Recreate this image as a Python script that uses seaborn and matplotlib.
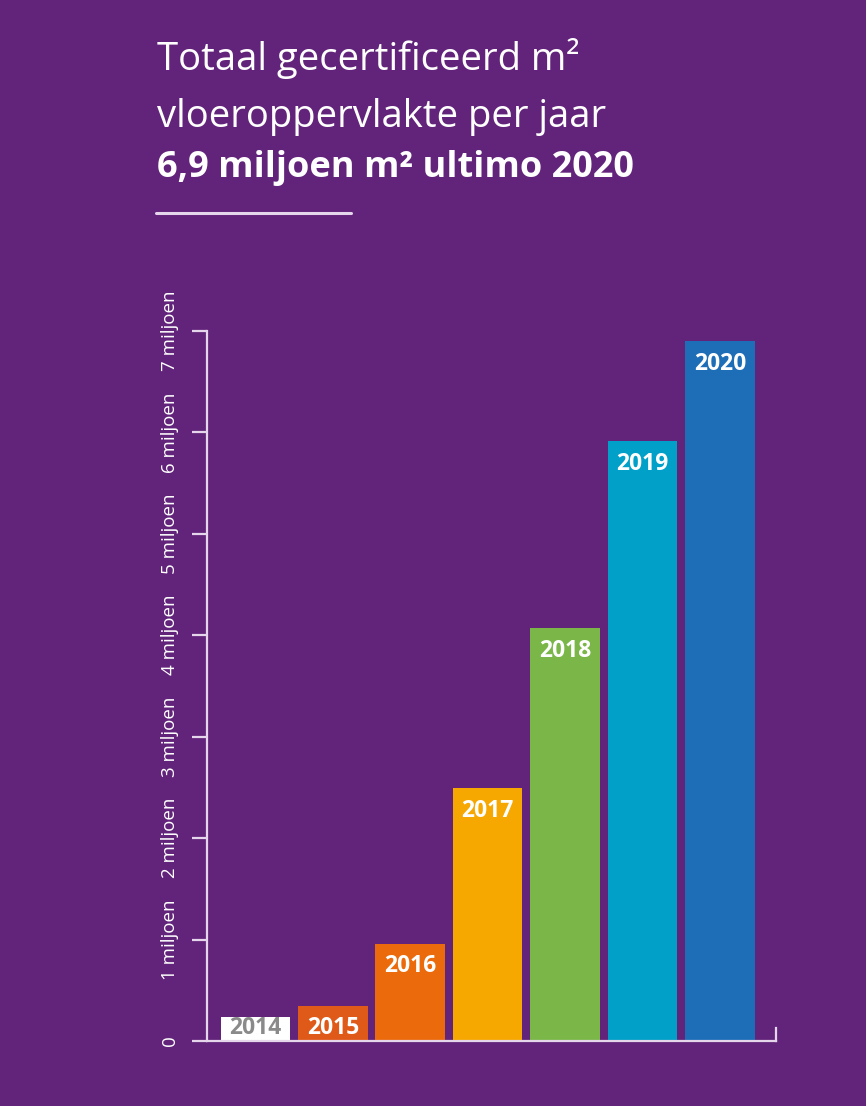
import numpy as np
import matplotlib
matplotlib.use('Agg')
import matplotlib.pyplot as plt
import seaborn as sns
from matplotlib.lines import Line2D

# data
years = ['2014', '2015', '2016', '2017', '2018', '2019', '2020']
area_mln = [0.24, 0.34, 0.96, 2.49, 4.07, 5.91, 6.90]
bar_colors = ['#FFFFFF', '#DF5A18', '#EB6A0C', '#F6A800', '#7AB648', '#00A0C8', '#1E6DB7']
label_colors = ['#8A8A8A', 'white', 'white', 'white', 'white', 'white', 'white']
ytick_vals = [0, 1, 2, 3, 4, 5, 6, 7]
ytick_labels = ['0', '1 miljoen', '2 miljoen', '3 miljoen', '4 miljoen',
                '5 miljoen', '6 miljoen', '7 miljoen']

BG = '#62247A'
AXC = '#E6D6EC'

sns.set_theme(style='white')
plt.rcParams['font.family'] = ['Open Sans', 'DejaVu Sans']

fig = plt.figure(figsize=(8.66, 11.06), dpi=100, facecolor=BG)
ax = fig.add_axes([0.239, 0.0588, 0.657, 0.642])
ax.set_facecolor(BG)

sns.barplot(x=years, y=area_mln, hue=years, palette=bar_colors, width=0.9,
            legend=False, linewidth=0, saturation=1, ax=ax)

ax.set_xlim(-0.627, 6.725)
ax.set_ylim(0, 7)

# year labels inside the bars
for i, (v, c) in enumerate(zip(area_mln, label_colors)):
    ypos = max(v - 0.225, 0.125)
    ax.text(i, ypos, years[i], ha='center', va='center', color=c,
            fontsize=16.5, fontweight='bold')

# axes styling
ax.spines['top'].set_visible(False)
for s in ['left', 'bottom', 'right']:
    ax.spines[s].set_color(AXC)
    ax.spines[s].set_linewidth(1.6)
ax.spines['right'].set_bounds(0, 0.13)

ax.set_xticks([])
ax.set_yticks(ytick_vals)
ax.set_yticklabels(ytick_labels, rotation=90, va='center', color='white', fontsize=13.5)
ax.tick_params(axis='y', direction='out', length=11, width=1.6, color=AXC, pad=9, left=True)
ax.set_xlabel('')
ax.set_ylabel('')

# title block
fig.text(0.181, 0.9367, 'Totaal gecertificeerd m²', color='white', fontsize=27.5, va='baseline')
fig.text(0.181, 0.8852, 'vloeroppervlakte per jaar', color='white', fontsize=27.5, va='baseline')
fig.text(0.181, 0.840, '6,9 miljoen m² ultimo 2020', color='white', fontsize=26,
         fontweight='bold', va='baseline')
fig.add_artist(Line2D([156 / 866, 351 / 866], [0.8074, 0.8074], color=AXC, linewidth=2.2))

fig.savefig('out.png', dpi=100, facecolor=BG)
